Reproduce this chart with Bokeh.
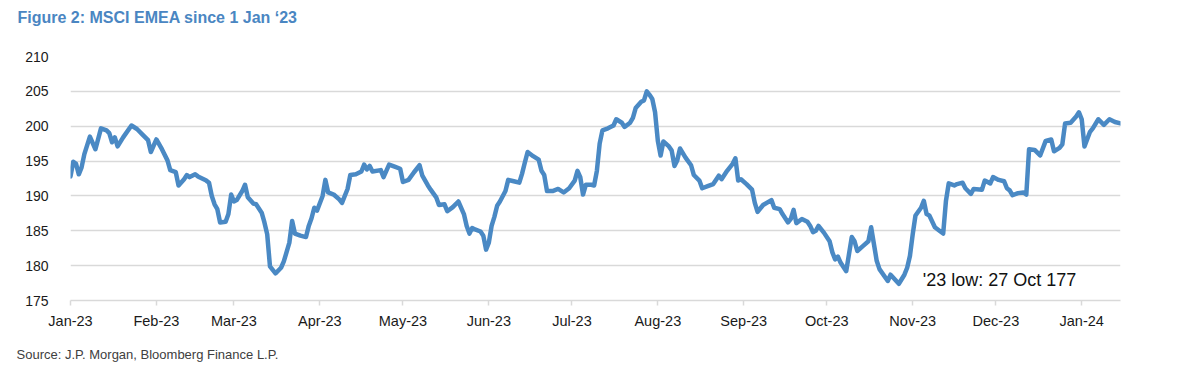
import pandas as pd
from bokeh.plotting import figure
from bokeh.models import Range1d, FixedTicker, Label, Title, DatetimeTickFormatter
from bokeh.embed import file_html
from bokeh.resources import INLINE

# ---- data ----
start_date = "2023-01-01"
# days since 1 Jan 2023
days = [0, 1, 2, 3, 4, 5, 7, 9, 11, 13, 14, 15, 16, 17, 19, 22, 24, 26, 28, 29,
        31, 33, 35, 36, 38, 39, 41, 42, 43, 45, 46, 49, 50, 51, 52, 53, 54, 56, 57, 58,
        59, 60, 62, 63, 64, 66, 67, 69, 70, 71, 72, 74, 76, 77, 79, 80, 81, 83, 85, 86,
        87, 88, 89, 91, 92,
        93, 95, 97, 98, 100, 101, 103, 105, 106, 107, 108, 109, 112, 113, 115, 117, 119,
        120, 122, 124, 126, 127, 129, 130, 132, 133, 135, 136, 138, 140, 142, 143, 144,
        145, 146, 148, 149, 150,
        151, 152, 153, 154, 155, 157, 158, 160, 162, 163, 164, 165, 167, 169, 170, 171,
        172, 174, 176, 178, 180,
        182, 183, 184, 185, 186, 188, 189, 190, 191, 192, 194, 196, 197, 199, 200, 202,
        203, 204, 206, 207, 208, 209, 210, 211,
        212, 213, 214, 216, 217, 218, 219, 220, 222, 224, 225, 227, 228, 230, 232, 234,
        235, 237, 239, 240, 241, 242,
        244, 246, 247, 248, 250, 253, 254, 256, 257, 259, 260, 261, 262, 264, 266, 267,
        268, 269, 270, 272,
        274, 275, 276, 277, 278, 280, 282, 283, 284, 286, 288, 289, 290, 291, 292, 295,
        296, 299, 301, 302, 303,
        304, 305, 307, 308, 309, 310, 312, 314, 315, 316, 317, 319, 320, 322, 323, 325,
        326, 329, 330, 332, 333,
        335, 337, 338, 339, 340, 342, 344, 345, 346, 348, 349, 350, 352, 354, 355, 357,
        358, 359, 361, 363, 364,
        365, 366, 368, 369, 371, 373, 375, 377, 379]

msci_emea = [192.8, 194.9, 194.6, 193.1, 194.1, 196.0, 198.5, 196.7, 199.7, 199.4, 199.0,
             197.7, 198.4, 197.1, 198.4, 200.1, 199.6, 198.8, 198.0, 196.3,
             198.1, 196.7, 195.1, 193.7, 193.4, 191.5, 192.4, 193.0, 192.7, 193.1, 192.8,
             192.2, 191.9, 190.0, 188.8, 188.1, 186.2, 186.3, 187.4, 190.2,
             189.2, 189.4, 190.7, 191.6, 189.8, 188.9, 188.8, 187.6, 186.2, 184.5, 179.9,
             178.9, 179.7, 180.6, 183.3, 186.4, 184.6, 184.3, 184.1, 185.7,
             186.8, 188.3, 187.9, 190.0, 192.3,
             190.5, 190.2, 189.5, 189.0, 191.0, 193.0, 193.1, 193.5, 194.5, 193.8, 194.3,
             193.5, 193.7, 192.7, 194.5, 194.2, 193.9,
             192.0, 192.3, 193.4, 194.4, 192.9, 191.5, 190.9, 189.8, 188.7, 188.8, 187.8,
             188.4, 189.2, 187.4, 185.7, 184.6,
             185.4, 185.2, 184.9, 184.3, 182.3,
             183.3, 185.7, 187.0, 188.6, 189.2, 190.7, 192.3, 192.1, 191.9, 193.2, 194.8,
             196.3, 195.7, 195.2, 193.6, 193.0,
             190.7, 190.7, 191.0, 190.5, 191.1,
             192.2, 193.6, 192.7, 190.2, 191.6, 191.6, 191.5, 193.6, 197.5, 199.4, 199.7,
             200.1, 201.0, 200.5, 199.9, 200.5,
             201.2, 202.6, 203.5, 203.7, 205.0, 204.5, 203.9, 202.0,
             197.9, 195.8, 197.8, 197.1, 196.5, 194.3, 195.1, 196.8, 195.5, 194.4, 193.0,
             192.2, 191.1, 191.4, 191.7, 192.9,
             192.4, 193.6, 194.6, 195.4, 192.2, 192.4,
             191.7, 190.9, 189.0, 187.7, 188.7, 189.4, 188.3, 188.1, 187.4, 186.2, 186.7,
             188.0, 186.1, 186.7, 186.3, 185.7,
             184.8, 185.0, 185.7, 184.7,
             183.5, 181.9, 180.9, 181.3, 180.4, 179.2, 184.1, 183.5, 182.1, 182.8, 183.5,
             185.5, 183.1, 180.7, 179.5, 177.8,
             178.7, 177.4, 178.7, 179.7, 181.4,
             184.5, 187.2, 188.3, 189.3, 187.4, 187.2, 185.5, 184.9, 184.6, 189.3, 191.8,
             191.5, 191.7, 191.9, 191.1, 190.3,
             191.0, 190.9, 192.2, 191.8, 192.7,
             192.3, 192.1, 191.1, 190.8, 190.1, 190.4, 190.5, 190.2, 196.7, 196.6, 196.2,
             195.8, 197.9, 198.1, 196.4, 196.9,
             197.4, 200.4, 200.5, 201.4, 202.0,
             201.0, 197.1, 199.2, 199.7, 201.0, 200.2, 201.0, 200.6, 200.4]

assert len(days) == len(msci_emea)

month_ticks = ["2023-01-01", "2023-02-01", "2023-03-01", "2023-04-01", "2023-05-01",
               "2023-06-01", "2023-07-01", "2023-08-01", "2023-09-01", "2023-10-01",
               "2023-11-01", "2023-12-01", "2024-01-01"]
month_labels = ["Jan-23", "Feb-23", "Mar-23", "Apr-23", "May-23", "Jun-23", "Jul-23",
                "Aug-23", "Sep-23", "Oct-23", "Nov-23", "Dec-23", "Jan-24"]
y_ticks = [175, 180, 185, 190, 195, 200, 205, 210]

title_text = "Figure 2: MSCI EMEA since 1 Jan \u201823"
source_text = "Source: J.P. Morgan, Bloomberg Finance L.P."
low_note = "'23 low: 27 Oct 177"
low_date = "2023-10-27"

# ---- build ----
dates = pd.Timestamp(start_date) + pd.to_timedelta(days, unit="D")
tick_ms = [pd.Timestamp(t).value / 1e6 for t in month_ticks]

FONT = "Liberation Sans"

p = figure(width=1181, height=372, x_axis_type="datetime",
           output_backend="svg", toolbar_location=None,
           x_range=Range1d(dates[0], dates[-1]), y_range=Range1d(175, 210),
           min_border_left=70, min_border_right=61, min_border_top=56,
           min_border_bottom=72)
p.outline_line_color = None
p.background_fill_color = "white"
p.border_fill_color = "white"

p.line(dates, msci_emea, line_color="#4A89C4", line_width=4.5, line_join="round",
       line_cap="round")

# axes
p.xaxis.ticker = FixedTicker(ticks=tick_ms)
p.xaxis.formatter = DatetimeTickFormatter(days="%b-%y", months="%b-%y", years="%b-%y")
p.xaxis.major_label_overrides = {t: l for t, l in zip(tick_ms, month_labels)}
p.xaxis.axis_line_color = "#d9d9d9"
p.xaxis.axis_line_width = 1.5
p.xaxis.major_tick_line_color = "#d9d9d9"
p.xaxis.major_tick_line_width = 1.5
p.xaxis.major_tick_out = 5
p.xaxis.major_tick_in = 0
p.xaxis.minor_tick_line_color = None
p.xaxis.major_label_standoff = 7
p.xaxis.major_label_text_font = FONT
p.xaxis.major_label_text_font_size = "14.5px"
p.xaxis.major_label_text_color = "#1a1a1a"

p.yaxis.ticker = FixedTicker(ticks=y_ticks)
p.yaxis.axis_line_color = None
p.yaxis.major_tick_line_color = None
p.yaxis.minor_tick_line_color = None
p.yaxis.major_label_standoff = 16
p.yaxis.major_label_text_font = FONT
p.yaxis.major_label_text_font_size = "14px"
p.yaxis.major_label_text_color = "#1a1a1a"

p.xgrid.grid_line_color = None
p.ygrid.grid_line_color = "#d9d9d9"
p.ygrid.grid_line_width = 1.5

# annotation near the low
note_x = (pd.Timestamp(low_date) + pd.Timedelta(days=8.6)).value / 1e6
p.add_layout(Label(x=note_x, y=177.95,
                   text=low_note, text_font=FONT, text_font_size="18px",
                   text_color="#111111", text_baseline="middle", text_align="left"))

# title (above, with a blank spacer between it and the plot)
p.add_layout(Title(text=" ", standoff=18, text_font_size="10px"), "above")
p.add_layout(Title(text=title_text, align="left", offset=-53, standoff=0,
                   text_font=FONT, text_font_size="16px", text_font_style="bold",
                   text_color="#4A86C2", vertical_align="bottom"), "above")
# source (below the axis, after a small blank spacer)
p.add_layout(Title(text=" ", standoff=8, text_font_size="4px"), "below")
p.add_layout(Title(text=source_text, align="left", offset=-54, standoff=0,
                   text_font=FONT, text_font_size="13px", text_font_style="normal",
                   text_color="#404040", vertical_align="top"), "below")

open("out.html", "w").write(file_html(p, INLINE))
